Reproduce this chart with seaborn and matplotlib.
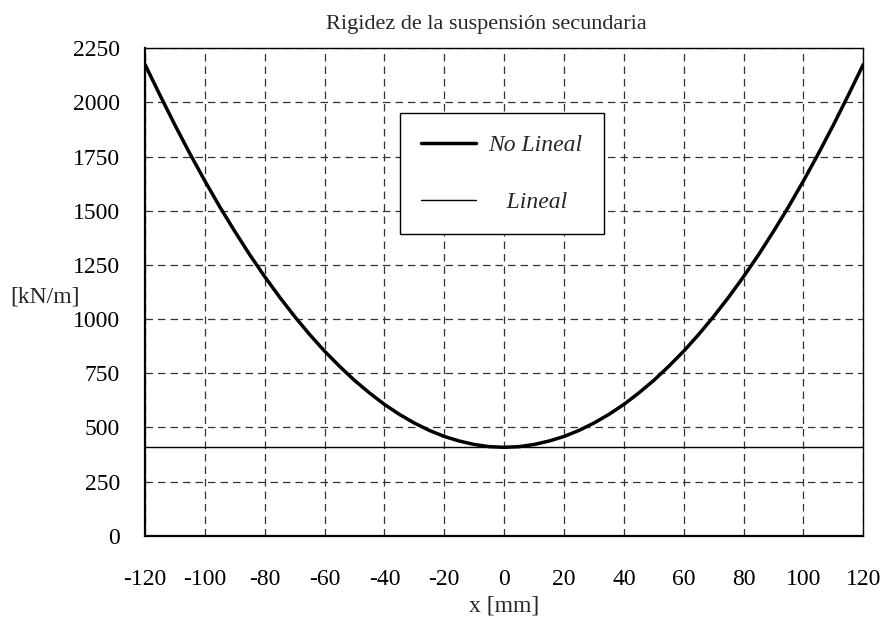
import matplotlib
matplotlib.use("Agg")
import matplotlib.pyplot as plt
from matplotlib.ticker import MultipleLocator
import pandas as pd
import seaborn as sns

# Secondary suspension stiffness vs. displacement
x_mm = [-120, -115, -110, -105, -100, -95, -90, -85, -80, -75, -70, -65, -60,
        -55, -50, -45, -40, -35, -30, -25, -20, -15, -10, -5, 0,
        5, 10, 15, 20, 25, 30, 35, 40, 45, 50, 55, 60,
        65, 70, 75, 80, 85, 90, 95, 100, 105, 110, 115, 120]
k_nolineal = [2176, 2034, 1896, 1764, 1638, 1518, 1405, 1297, 1196, 1101, 1012, 929, 852,
              782, 717, 659, 606, 560, 520, 486, 458, 437, 421, 411, 408,
              411, 421, 437, 458, 486, 520, 560, 606, 659, 717, 782, 852,
              929, 1012, 1101, 1196, 1297, 1405, 1518, 1638, 1764, 1896, 2034, 2176]
k_lineal = 408

title = "Rigidez de la suspensión secundaria"
xlabel = "x [mm]"
ylabel = "[kN/m]"
label_nl = "No Lineal"
label_l = "   Lineal"

sns.set_style("white")
plt.rcParams["font.family"] = ["Liberation Serif", "DejaVu Serif"]
plt.rcParams["axes.unicode_minus"] = False

df = pd.DataFrame({"x": x_mm, "k": k_nolineal})
df_lin = pd.DataFrame({"x": [x_mm[0], x_mm[-1]], "k": [k_lineal, k_lineal]})

fig = plt.figure(figsize=(8.84, 6.17), dpi=100)
ax = fig.add_axes([0.164, 0.1318, 0.8126, 0.7899])

sns.lineplot(data=df, x="x", y="k", ax=ax, color="black", linewidth=2.5,
             label=label_nl, zorder=3)
sns.lineplot(data=df_lin, x="x", y="k", ax=ax, color="black", linewidth=1.0,
             label=label_l, zorder=3)

ax.set_xlim(-120, 120)
ax.set_ylim(0, 2250)
ax.xaxis.set_major_locator(MultipleLocator(20))
ax.xaxis.set_minor_locator(MultipleLocator(10))
ax.yaxis.set_major_locator(MultipleLocator(250))
ax.yaxis.set_minor_locator(MultipleLocator(125))

ax.grid(True, which="major", color="#333333", linestyle=(0, (6, 4)), linewidth=0.9)
ax.tick_params(which="both", direction="in", top=False, right=False,
               colors="black", labelsize=17)
ax.tick_params(axis="x", which="major", length=5, pad=24)
ax.tick_params(axis="y", which="major", length=5, pad=18)
ax.tick_params(which="minor", length=5, width=1)

for s in ax.spines.values():
    s.set_color("black")
    s.set_linewidth(1.0)
ax.spines["left"].set_linewidth(1.6)
ax.spines["bottom"].set_linewidth(1.6)

ax.set_title(title, fontsize=16, pad=14, x=0.475)
ax.set_xlabel(xlabel, fontsize=17, labelpad=4)
ax.set_ylabel(ylabel, fontsize=17, rotation=0, ha="left", va="center")
ax.yaxis.set_label_coords(-0.188, 0.49)

leg = ax.legend(loc="upper left", bbox_to_anchor=(0.355, 0.867), borderaxespad=0,
                fontsize=17, handlelength=2.3, handletextpad=0.55, labelspacing=1.5,
                borderpad=0.9, fancybox=False, framealpha=1, edgecolor="black")
leg.get_frame().set_linewidth(1.0)
for t in leg.get_texts():
    t.set_fontstyle("italic")

fig.savefig("out.png", dpi=100, facecolor="white")
